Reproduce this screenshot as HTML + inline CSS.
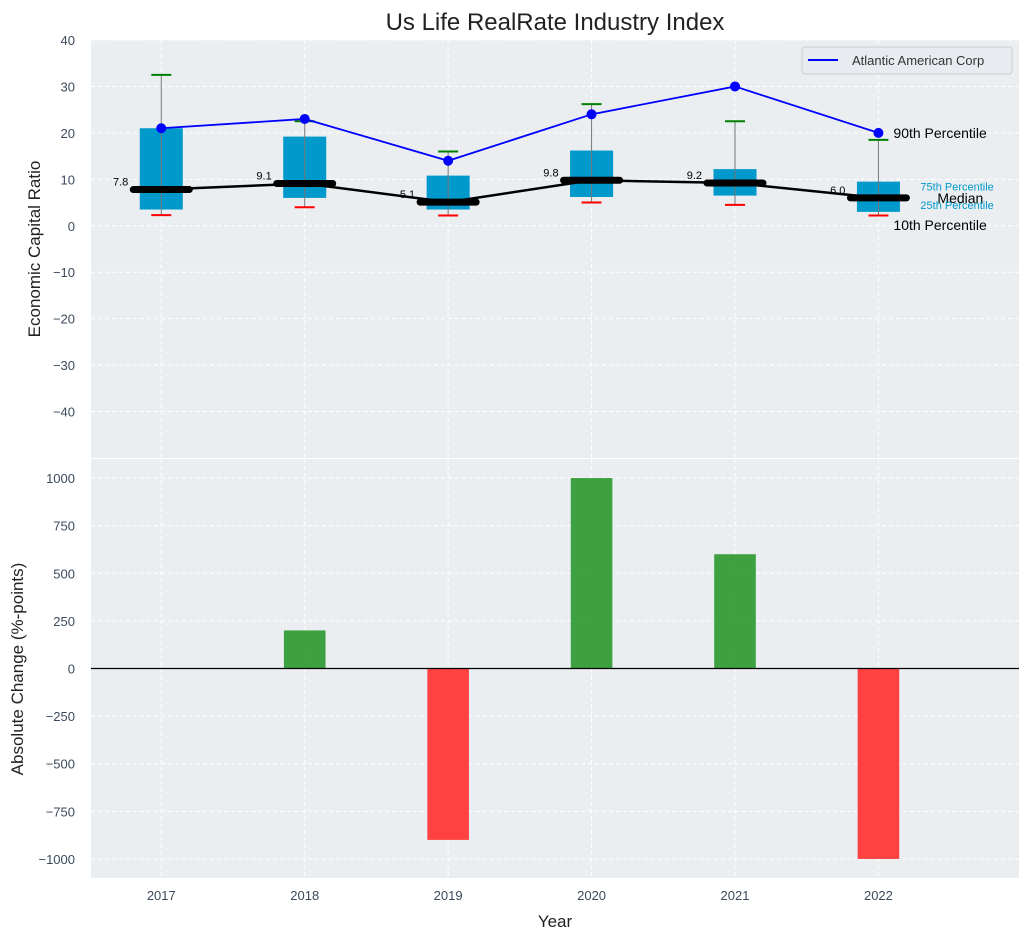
<!DOCTYPE html>
<html><head><meta charset="utf-8"><style>
body{margin:0;background:#fff;}
svg{display:block;font-family:"Liberation Sans",sans-serif;}
</style></head><body>
<svg id="chart" width="1029" height="940"></svg>
<script>
const years=["2017","2018","2019","2020","2021","2022"];
const p10=[2.3,4.0,2.2,5.0,4.5,2.2];
const p25=[3.5,6.0,3.5,6.2,6.5,3.0];
const p75=[21.0,19.2,10.8,16.2,12.2,9.5];
const p90=[32.5,22.5,16.0,26.2,22.5,18.5];
const medians=[7.8,9.1,5.1,9.8,9.2,6.0];
const company=[21,23,14,24,30,20];
const changes=[0,200,-900,1000,600,-1000];
const topTicks=[40,30,20,10,0,-10,-20,-30,-40];
const botTicks=[1000,750,500,250,0,-250,-500,-750,-1000];

const NS="http://www.w3.org/2000/svg";
const svg=document.getElementById('chart');
function mk(tag,attrs,parent,text){const e=document.createElementNS(NS,tag);for(const k in attrs)e.setAttribute(k,attrs[k]);if(text!==undefined)e.textContent=text;(parent||svg).appendChild(e);return e;}
const L=91,R=1019;
const x=i=>L+(i+0.49)/(6.47)*(R-L);
const T1=40,B1=458,yT=v=>T1+(40-v)/90*(B1-T1);
const T2=459,B2=878,yB=v=>T2+(1100-v)/2200*(B2-T2);
const fmt=v=>v<0?'\u2212'+Math.abs(v):String(v);

// backgrounds
let e=mk('rect',{x:L,y:T1,width:R-L,height:B1-T1,fill:'#eaeef0'});

e=mk('rect',{x:L,y:T2,width:R-L,height:B2-T2,fill:'#eaeef0'});


// grids
topTicks.forEach(t=>{const yy=yT(t);mk('line',{x1:L,x2:R,y1:yy,y2:yy,stroke:'#fff','stroke-dasharray':'4,3','stroke-width':1});
 e=mk('text',{x:75,y:yy+5,'text-anchor':'end','font-size':13,fill:'#3b4a5c'},svg,fmt(t));
 });
botTicks.forEach(t=>{const yy=yB(t);mk('line',{x1:L,x2:R,y1:yy,y2:yy,stroke:'#fff','stroke-dasharray':'4,3','stroke-width':1});
 e=mk('text',{x:75,y:yy+5,'text-anchor':'end','font-size':13,fill:'#3b4a5c'},svg,fmt(t));
 });
years.forEach((yv,i)=>{const xx=x(i);
 mk('line',{x1:xx,x2:xx,y1:T1,y2:B1,stroke:'#fff','stroke-dasharray':'4,3'});
 mk('line',{x1:xx,x2:xx,y1:T2,y2:B2,stroke:'#fff','stroke-dasharray':'4,3'});
 e=mk('text',{x:xx,y:900,'text-anchor':'middle','font-size':13,fill:'#3b4a5c'},svg,yv);
 });

// boxes
const bw=0.3*(R-L)/6.47;
years.forEach((yv,i)=>{const xx=x(i);
 e=mk('rect',{x:xx-bw/2,y:yT(p75[i]),width:bw,height:yT(p25[i])-yT(p75[i]),fill:'#0099cc'});
 
 e=mk('line',{x1:xx,x2:xx,y1:yT(p90[i]),y2:yT(p10[i]),stroke:'#777','stroke-width':1});
 
 e=mk('line',{x1:xx-10,x2:xx+10,y1:yT(p90[i]),y2:yT(p90[i]),stroke:'green','stroke-width':2});
 
 e=mk('line',{x1:xx-10,x2:xx+10,y1:yT(p10[i]),y2:yT(p10[i]),stroke:'red','stroke-width':2});
 
});
// median line
e=mk('polyline',{points:medians.map((m,i)=>x(i)+','+yT(m)).join(' '),fill:'none',stroke:'#000','stroke-width':2.5});

medians.forEach((m,i)=>{const xx=x(i);
 e=mk('line',{x1:xx-28,x2:xx+28,y1:yT(m),y2:yT(m),stroke:'#000','stroke-width':7,'stroke-linecap':'round'});
 
 e=mk('text',{x:xx-33,y:yT(m)-4,'text-anchor':'end','font-size':11,fill:'#000'},svg,m.toFixed(1));
 });
// company
e=mk('polyline',{points:company.map((c,i)=>x(i)+','+yT(c)).join(' '),fill:'none',stroke:'#0000ff','stroke-width':1.8});

company.forEach((c,i)=>{e=mk('circle',{cx:x(i),cy:yT(c),r:5,fill:'#0000ff'});
 });
// annotations
const lx=x(5);
[['90th Percentile',lx+15,yT(p90[5]+1.5)+5,14,'#000'],['10th Percentile',lx+15,yT(p10[5]-2)+5,14,'#000'],['Median',lx+59,yT(medians[5])+5,14,'#000'],
 ['75th Percentile',lx+42,yT(p75[5]-1)+4,11,'#0099cc'],['25th Percentile',lx+42,yT(p25[5]+1.5)+4,11,'#0099cc']].forEach(a=>{
 e=mk('text',{x:a[1],y:a[2],'font-size':a[3],fill:a[4]},svg,a[0]);
 });
// legend
const lg=mk('g',{});
mk('rect',{x:802,y:47,width:210,height:27,rx:3,fill:'#e8ebef',stroke:'#ccc'},lg);
mk('line',{x1:808,x2:838,y1:60,y2:60,stroke:'#0000ff','stroke-width':2},lg);
mk('text',{x:852,y:65,'font-size':13,fill:'#333'},lg,'Atlantic American Corp');
// bars
const barw=0.29*(R-L)/6.47;
changes.forEach((c,i)=>{if(c===0)return;const xx=x(i);
 e=mk('rect',{x:xx-barw/2,y:Math.min(yB(c),yB(0)),width:barw,height:Math.abs(yB(c)-yB(0)),fill:c>0?'#2e9a33':'#ff3333','fill-opacity':0.92});
 });
e=mk('line',{x1:L,x2:R,y1:yB(0),y2:yB(0),stroke:'#000','stroke-width':1.2});

// titles
e=mk('text',{x:555,y:30,'text-anchor':'middle','font-size':24,fill:'#222'},svg,'Us Life RealRate Industry Index');

e=mk('text',{x:555,y:927,'text-anchor':'middle','font-size':17,fill:'#222'},svg,'Year');

e=mk('text',{x:0,y:0,'text-anchor':'middle','font-size':17,fill:'#222',transform:'translate(40,249) rotate(-90)'},svg,'Economic Capital Ratio');

e=mk('text',{x:0,y:0,'text-anchor':'middle','font-size':17,fill:'#222',transform:'translate(23,669) rotate(-90)'},svg,'Absolute Change (%-points)');

</script>
</body></html>
